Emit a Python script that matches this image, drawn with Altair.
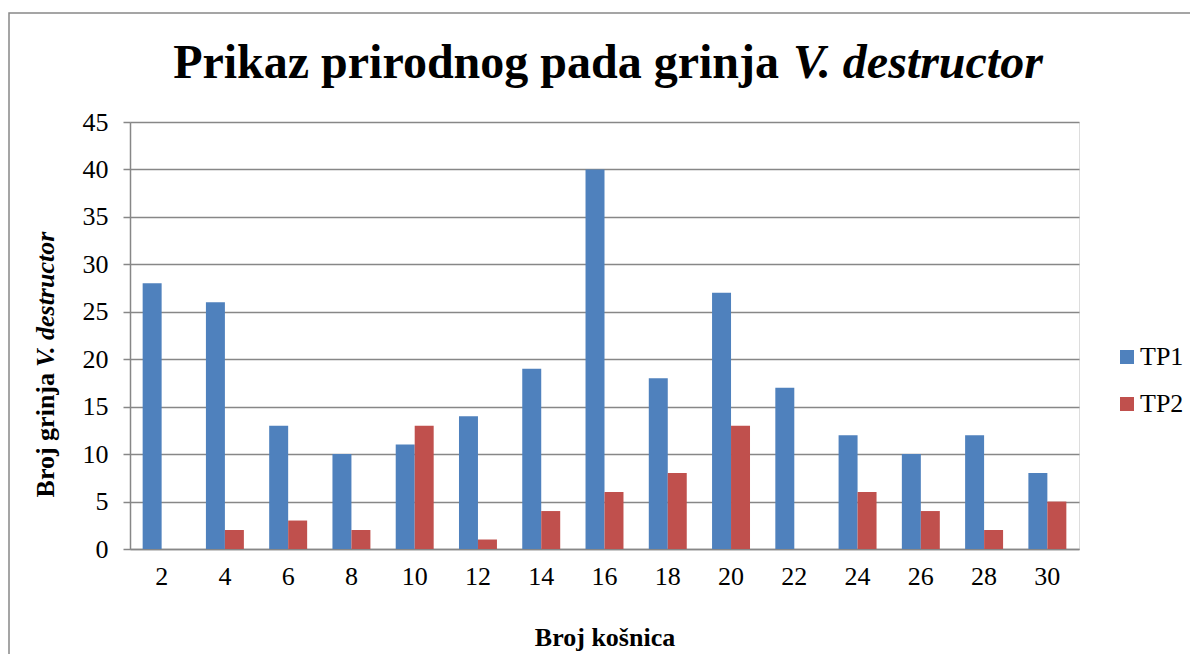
import altair as alt
import pandas as pd

hives = [2, 4, 6, 8, 10, 12, 14, 16, 18, 20, 22, 24, 26, 28, 30]
tp1 = [28, 26, 13, 10, 11, 14, 19, 40, 18, 27, 17, 12, 10, 12, 8]
tp2 = [0, 2, 3, 2, 13, 1, 4, 6, 8, 13, 0, 6, 4, 2, 5]
series = ["TP1", "TP2"]
colors = ["#4F81BD", "#C0504D"]
y_ticks = [0, 5, 10, 15, 20, 25, 30, 35, 40, 45]

title_main = "Prikaz prirodnog pada grinja"
title_ital = "V. destructor"
ytitle_main = "Broj grinja"
ytitle_ital = "V. destructor"
xtitle = "Broj košnica"

rows = []
for h, a, b in zip(hives, tp1, tp2):
    rows.append({"hive": str(h), "series": "TP1", "value": a})
    rows.append({"hive": str(h), "series": "TP2", "value": b})
df = pd.DataFrame(rows)

FONT = "Liberation Serif"
W, H = 949, 427
GRID = "#878787"

bars = alt.Chart(df).mark_bar().encode(
    x=alt.X("hive:N", sort=[str(h) for h in hives],
            scale=alt.Scale(paddingInner=0.4, paddingOuter=0.2),
            axis=alt.Axis(title=xtitle, labelAngle=0, ticks=False, grid=False,
                          domainColor=GRID, domainWidth=1.5,
                          labelFont=FONT, labelFontSize=26, labelColor="black",
                          labelPadding=14,
                          titleFont=FONT, titleFontSize=26, titleFontWeight="bold",
                          titleColor="black", titlePadding=35)),
    xOffset=alt.XOffset("series:N", scale=alt.Scale(paddingInner=0, paddingOuter=0)),
    y=alt.Y("value:Q", scale=alt.Scale(domain=[0, 45], nice=False),
            axis=alt.Axis(title=None, values=y_ticks, grid=True, gridColor=GRID,
                          gridWidth=1.5, domainColor=GRID, domainWidth=1.5,
                          tickColor=GRID, tickSize=7, tickWidth=1.5,
                          labelFont=FONT, labelFontSize=26, labelColor="black",
                          labelPadding=15)),
    color=alt.Color("series:N", scale=alt.Scale(domain=series, range=colors),
                    legend=alt.Legend(title=None, orient="none", legendX=984,
                                      legendY=222, symbolType="square",
                                      symbolSize=196, symbolStrokeWidth=0,
                                      labelFont=FONT, labelFontSize=26,
                                      labelColor="black", rowPadding=21,
                                      labelOffset=0, padding=0)),
)

def txt(text, x, y, align, weight="bold", style="normal", size=26, angle=0):
    return alt.Chart(pd.DataFrame({"t": [text]})).mark_text(
        font=FONT, fontSize=size, fontWeight=weight, fontStyle=style,
        align=align, baseline="alphabetic", angle=angle, color="black"
    ).encode(text="t:N", x=alt.value(x), y=alt.value(y))

frame = alt.Chart(pd.DataFrame({"k": [0]})).mark_rect(
    fill=None, stroke="#888888", strokeWidth=1.5
).encode(x=alt.value(-121), y=alt.value(-109), x2=alt.value(1200), y2=alt.value(700))

t1 = txt(title_main, 649, -44, "right", size=48)
t2 = txt(title_ital, 663, -44, "left", style="italic", size=48)
y1 = txt(ytitle_main, -76, 251, "right", angle=270)
y2 = txt(ytitle_ital, -76, 245, "left", style="italic", angle=270)

chart = alt.layer(frame, bars, t1, t2, y1, y2).properties(
    width=W, height=H,
    autosize=alt.AutoSizeParams(type="none"),
    padding={"left": 122, "top": 114, "right": 111, "bottom": 105},
).configure_view(stroke=None).configure(
    background="white", font=FONT
).configure_axis(labelFont=FONT, titleFont=FONT).configure_legend(labelFont=FONT)

chart.save("out.html", embed_options={"renderer": "svg", "actions": False})
